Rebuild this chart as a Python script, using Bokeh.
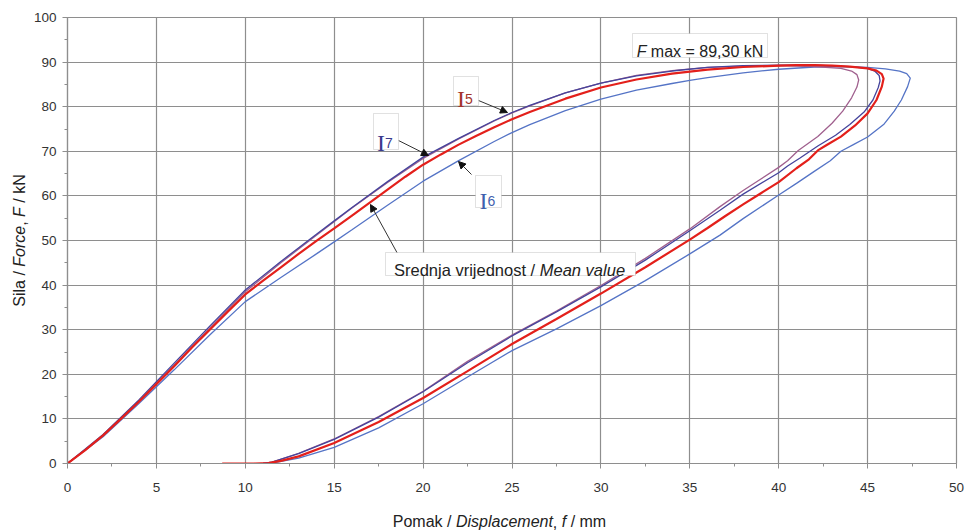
import math
from bokeh.plotting import figure
from bokeh.layouts import row, column
from bokeh.models import Range1d, Label, BoxAnnotation, Arrow, NormalHead, FixedTicker
from bokeh.embed import file_html
from bokeh.resources import INLINE

# ---------------- data ----------------
mean_x = [0, 1, 2, 3, 4, 5, 6, 7, 8, 9, 10, 11, 12, 13, 14, 15, 16, 17, 18, 19, 20, 21, 22, 23, 24, 25, 26, 28, 30,
          32, 34, 36, 38, 40, 41, 42, 43, 44, 45, 45.5, 45.8,
          45.9, 45.8, 45.5, 45.0, 44.3, 43.5, 42.7, 42.2, 41.7, 41.0, 40, 39, 38, 37, 36, 35, 32.5, 30, 27.5, 25,
          22.5, 20, 17.5, 15, 13, 12, 11.3, 10.5, 8.7]
mean_f = [0, 3.0, 6.3, 10.0, 13.8, 17.8, 21.8, 26.0, 30.0, 34.0, 37.9, 41.0, 44.0, 47.0, 49.9, 52.7, 55.6, 58.5,
          61.4, 64.3, 67.0, 69.3, 71.5, 73.5, 75.4, 77.2, 78.8, 81.8, 84.3, 86.1, 87.4, 88.3, 88.9, 89.2, 89.3,
          89.3, 89.2, 89.0, 88.6, 88.1, 87.3,
          86.3, 84.5, 81.5, 78.5, 75.8, 73.3, 71.4, 70.2, 68.2, 66.2, 63.1, 60.6, 58.1, 55.5, 52.8, 50.2, 44.0,
          38.1, 32.4, 26.8, 20.7, 14.7, 9.3, 4.6, 1.6, 0.6, 0.1, 0, 0]

i7_x = [0, 2, 4, 6, 8, 10, 12, 14, 15, 16, 18, 20, 22, 24, 25, 26, 28, 30, 32, 34, 36, 38, 40, 42, 44, 45, 45.4,
        45.65,
        45.7, 45.6, 45.3, 44.8, 44.0, 43.2, 42.2, 41.2, 40.5, 40, 38, 36.7, 35, 32.5, 30, 27.5, 25, 22.5, 20, 17.5,
        15, 13, 11.5, 11]
i7_f = [0, 6.5, 14.2, 22.5, 30.8, 38.9, 45.3, 51.4, 54.4, 57.4, 63.2, 68.7, 72.9, 76.9, 78.7, 80.3, 83.1, 85.3,
        86.9, 88.0, 88.8, 89.2, 89.3, 89.3, 89.0, 88.6, 88.0, 87.0,
        85.8, 84.3, 81.5, 78.8, 76.0, 73.6, 71.2, 68.5, 66.7, 65.2, 60.4, 56.8, 52.2, 45.6, 39.6, 34.0, 28.6, 22.6,
        16.1, 10.4, 5.4, 2.2, 0.3, 0]

i5_x = [0, 2, 4, 6, 8, 10, 12, 14, 16, 18, 20, 22, 24, 25, 26, 28, 30, 32, 34, 36, 38, 40, 42, 43.5, 44.1, 44.4,
        44.5, 44.4, 44.1, 43.6, 43.0, 42.2, 41.1, 40.5, 40, 38, 36.7, 35, 32.5, 30, 27.5, 25, 22.5, 20, 17.5, 15,
        13, 11.5, 11]
i5_f = [0, 6.2, 13.9, 22.1, 30.4, 38.5, 45.0, 51.2, 57.3, 63.0, 68.4, 72.8, 76.8, 78.6, 80.2, 83.1, 85.3, 87.0,
        88.1, 88.8, 89.1, 89.2, 89.0, 88.6, 88.0, 87.2,
        86.0, 84.4, 82.0, 79.0, 76.3, 73.3, 70.2, 67.9, 66.4, 61.2, 57.6, 52.6, 46.0, 39.9, 34.2, 28.8, 22.9, 16.2,
        10.5, 5.5, 2.3, 0.3, 0]

i6_x = [0, 2, 4, 6, 8, 10, 12, 14, 15, 16, 18, 20, 22, 24, 25, 26, 28, 30, 32, 34, 35, 36, 38, 40, 42, 44, 45, 46,
        46.8, 47.2,
        47.4, 47.25, 46.9, 46.5, 45.9, 45.0, 44.2, 43.5, 42.9, 42.0, 41.0, 40, 38, 36.7, 35, 32.5, 30, 27.5, 25,
        22.5, 20, 17.5, 15, 13, 11.5, 11]
i6_f = [0, 6.0, 13.4, 21.0, 28.8, 36.3, 41.7, 47.0, 49.7, 52.4, 57.9, 63.3, 67.9, 72.2, 74.2, 76.0, 79.1, 81.7,
        83.7, 85.2, 85.9, 86.5, 87.6, 88.4, 88.9, 89.0, 88.8, 88.5, 88.0, 87.4,
        86.4, 84.5, 81.5, 79.0, 76.0, 73.2, 71.5, 70.0, 67.9, 65.5, 62.8, 60.2, 54.9, 51.2, 47.0, 41.0, 35.4, 30.2,
        25.3, 19.4, 13.4, 8.0, 3.6, 1.2, 0.1, 0]

x_ticks = [0, 5, 10, 15, 20, 25, 30, 35, 40, 45, 50]
y_ticks = [0, 10, 20, 30, 40, 50, 60, 70, 80, 90, 100]

FONT = "Liberation Sans"
GRID = "#8e8e8e"

# ---------------- layout geometry (canvas pixels) ----------------
W, H = 966, 532
LEFT_W = 30            # strip for the y-axis title
BOT_H = 35             # strip for the x-axis title
FX0, FX1, FY0, FY1 = 67, 956, 17, 463   # plot frame in canvas pixels

p = figure(width=W - LEFT_W, height=H - BOT_H, output_backend="svg", toolbar_location=None,
           x_range=Range1d(0, 50), y_range=Range1d(0, 100),
           min_border_left=FX0 - LEFT_W, min_border_right=W - FX1, min_border_top=FY0,
           min_border_bottom=H - BOT_H - FY1)
p.background_fill_color = "white"
p.border_fill_color = "white"
p.outline_line_color = GRID
p.outline_line_width = 1.2

PXX = (FX1 - FX0) / 50.0    # pixels per mm
PXY = (FY1 - FY0) / 100.0   # pixels per kN

for ax, ticks in ((p.xaxis[0], x_ticks), (p.yaxis[0], y_ticks)):
    ax.ticker = FixedTicker(ticks=ticks,
                            minor_ticks=[(a + b) / 2 for a, b in zip(ticks[:-1], ticks[1:])])
    ax.axis_line_color = GRID
    ax.axis_line_width = 1.2
    ax.major_tick_line_color = GRID
    ax.minor_tick_line_color = GRID
    ax.major_tick_out = 5
    ax.major_tick_in = 0
    ax.minor_tick_out = 3
    ax.minor_tick_in = 0
    ax.major_label_text_font = FONT
    ax.major_label_text_font_size = "13.5px"
    ax.major_label_text_color = "#333333"
p.xaxis.major_label_standoff = 14
p.yaxis.major_label_standoff = 6

p.xgrid.ticker = FixedTicker(ticks=x_ticks)
p.ygrid.ticker = FixedTicker(ticks=y_ticks)
p.grid.grid_line_color = GRID
p.grid.grid_line_width = 1.2

# ---------------- curves ----------------
p.line(i6_x, i6_f, line_color="#5574c6", line_width=1.3)
p.line(i5_x, i5_f, line_color="#a0608e", line_width=1.3)
p.line(i7_x, i7_f, line_color="#45449c", line_width=1.3)
p.line(mean_x, mean_f, line_color="#e3201b", line_width=2.2)


# ---------------- text helpers ----------------
W_CH = {' ': 278, '/': 278, ',': 278, '.': 278, '=': 584, '0': 556, '1': 556, '2': 556, '3': 556, '4': 556,
        '5': 556, '6': 556, '7': 556, '8': 556, '9': 556,
        'a': 556, 'b': 556, 'c': 500, 'd': 556, 'e': 556, 'f': 278, 'g': 556, 'h': 556, 'i': 222, 'j': 222,
        'k': 500, 'l': 222, 'm': 833, 'n': 556, 'o': 556, 'p': 556, 'q': 556, 'r': 333, 's': 500, 't': 278,
        'u': 556, 'v': 500, 'w': 722, 'x': 500, 'y': 500, 'z': 500,
        'A': 667, 'D': 722, 'F': 611, 'I': 278, 'M': 833, 'N': 722, 'P': 667, 'S': 667}


def text_w(s, size):
    return sum(W_CH.get(c, 556) for c in s) * size / 1000.0


def main_conv(px, py):
    return (px - FX0) / PXX, (FY1 - py) / PXY


def rich(fig, conv, x_px, y_px, parts, size, angle=0.0, baseline="alphabetic", color="#222222"):
    """Mixed-style text run; x_px/y_px = canvas pixel position of the start of the run."""
    cum = 0.0
    for txt, style in parts:
        lead = len(txt) - len(txt.lstrip(" "))
        cum += text_w(" " * lead, size)
        core = txt.strip(" ")
        if core:
            if angle == 0.0:
                px, py = x_px + cum, y_px
            else:
                px, py = x_px, y_px - cum
            dx, dy = conv(px, py)
            fig.add_layout(Label(x=dx, y=dy, text=core, text_font=FONT, text_font_size=f"{size}px",
                                 text_font_style=style, text_color=color, text_align="left",
                                 text_baseline=baseline, angle=angle))
        cum += text_w(txt[lead:], size)


def box(x0, y0, x1, y1):
    l, t = main_conv(x0, y0)
    r, b = main_conv(x1, y1)
    p.add_layout(BoxAnnotation(left=l, right=r, top=t, bottom=b, fill_color="white", fill_alpha=1.0,
                               line_color="#9a9a9a", line_width=1))


def arrow(x0, y0, x1, y1):
    xs, ys = main_conv(x0, y0)
    xe, ye = main_conv(x1, y1)
    p.add_layout(Arrow(x_start=xs, y_start=ys, x_end=xe, y_end=ye, line_color="#333333", line_width=1,
                       end=NormalHead(size=7, fill_color="#111111", line_color="#111111")))


def strip_fig(w, h, xr, yr):
    f = figure(width=w, height=h, output_backend="svg", toolbar_location=None,
               x_range=Range1d(*xr), y_range=Range1d(*yr),
               x_axis_type=None, y_axis_type=None,
               min_border_left=0, min_border_right=0, min_border_top=0, min_border_bottom=0)
    f.outline_line_color = None
    f.background_fill_color = "white"
    f.border_fill_color = "white"
    f.grid.visible = False
    return f


# axis titles (in their own strips, coordinates = canvas pixels)
left_fig = strip_fig(LEFT_W, H, (0, LEFT_W), (H, 0))
# the column layout aligns this strip's frame with the plot frame (FX0..FX1)
bot_fig = strip_fig(W - LEFT_W, BOT_H, (FX0, FX1), (H, H - BOT_H))

x_parts = [("Pomak / ", "normal"), ("Displacement", "italic"), (", ", "normal"), ("f", "italic"),
           (" / mm", "normal")]
xw = sum(text_w(t, 16) for t, _ in x_parts)
rich(bot_fig, lambda a, b: (a, b), 499 - xw / 2, 521, x_parts, 16, baseline="middle")

y_parts = [("Sila / ", "normal"), ("Force", "italic"), (", ", "normal"), ("F", "italic"), (" / kN", "normal")]
yw = sum(text_w(t, 16) for t, _ in y_parts)
rich(left_fig, lambda a, b: (a, b), 19, 240 + yw / 2, y_parts, 16, angle=math.pi / 2, baseline="middle")

# F max box
box(632, 33, 767, 57)
f_parts = [("F", "italic"), (" max = 89,30 kN", "normal")]
fw = sum(text_w(t, 16) for t, _ in f_parts)
rich(p, main_conv, 699.5 - fw / 2, 51, f_parts, 16)

# mean value box
arrow(397, 253, 370, 204)
box(385, 252, 635, 275)
m_parts = [("Srednja vrijednost / ", "normal"), ("Mean value", "italic")]
mw = sum(text_w(t, 16.5) for t, _ in m_parts)
rich(p, main_conv, 509 - mw / 2, 269, m_parts, 16.5)

# specimen labels
arrow(478, 100, 507, 112)
arrow(398, 140, 428, 155)
arrow(471, 174, 458, 161)
for (x0, y0, x1, y1, sub, col) in [(453, 76, 478, 105, "5", "#a3352a"),
                                   (373, 113, 398, 149, "7", "#3a3a8c"),
                                   (475, 175, 501, 207, "6", "#3f5fae")]:
    box(x0, y0, x1, y1)
    cx = (x0 + x1) / 2
    base = y1 - 7
    lx, ly = main_conv(cx - 9, base)
    p.add_layout(Label(x=lx, y=ly, text="I", text_font="Liberation Serif", text_font_size="24px",
                       text_color=col, text_align="left", text_baseline="alphabetic"))
    sx, sy = main_conv(cx - 1, base)
    p.add_layout(Label(x=sx, y=sy, text=sub, text_font=FONT, text_font_size="14px", text_color=col,
                       text_align="left", text_baseline="alphabetic"))

layout = row(left_fig, column(p, bot_fig, spacing=0), spacing=0)
open("out.html", "w").write(file_html(layout, INLINE))
